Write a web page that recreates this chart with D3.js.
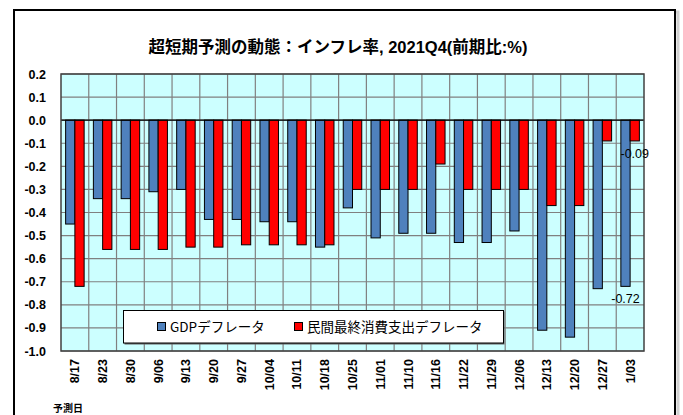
<!DOCTYPE html>
<html>
<head>
<meta charset="utf-8">
<script src="https://cdn.jsdelivr.net/npm/d3@7"></script>
<style>
  body { margin: 0; background: #fff; }
  svg { display: block; }
</style>
</head>
<body>
<div id="chart"></div>
<script>
// 予測日
var dates = ["8/17", "8/23", "8/30", "9/06", "9/13", "9/20", "9/27", "10/04", "10/11", "10/18",
  "10/25", "11/01", "11/10", "11/16", "11/22", "11/29", "12/06", "12/13", "12/20", "12/27", "1/03"];
// GDPデフレータ
var gdpDeflator = [-0.45, -0.34, -0.34, -0.31, -0.30, -0.43, -0.43, -0.44, -0.44, -0.55,
  -0.38, -0.51, -0.49, -0.49, -0.53, -0.53, -0.48, -0.91, -0.94, -0.73, -0.72];
// 民間最終消費支出デフレータ
var pceDeflator = [-0.72, -0.56, -0.56, -0.56, -0.55, -0.55, -0.54, -0.54, -0.54, -0.54,
  -0.30, -0.30, -0.30, -0.19, -0.30, -0.30, -0.30, -0.37, -0.37, -0.09, -0.09];
var seriesNames = ["GDPデフレータ", "民間最終消費支出デフレータ"];
var yTicks = [0.2, 0.1, 0.0, -0.1, -0.2, -0.3, -0.4, -0.5, -0.6, -0.7, -0.8, -0.9, -1.0];

var W = 683, H = 415;
var plotL = 61, plotR = 644, plotT = 74, plotB = 351;
var colors = ["#4f81bd", "#ff0000"];

var svg = d3.select("#chart").append("svg")
  .attr("width", W)
  .attr("height", H);

// outer frame
svg.append("rect")
  .attr("x", 16).attr("y", 12)
  .attr("width", 662).attr("height", 420)
  .attr("fill", "none")
  .attr("stroke", "#d0d0d0")
  .attr("stroke-width", 3);
svg.append("rect")
  .attr("x", 14).attr("y", 10)
  .attr("width", 661).attr("height", 420)
  .attr("fill", "#fff")
  .attr("stroke", "#000")
  .attr("stroke-width", 2);

svg.append("text")
  .attr("x", 338)
  .attr("y", 53)
  .attr("text-anchor", "middle")
  .style("font-family", "'Liberation Sans', 'Noto Sans CJK JP', sans-serif")
  .style("font-weight", "bold")
  .style("font-size", "16.5px")
  .text("超短期予測の動態：インフレ率, 2021Q4(前期比:%)");

var x = d3.scaleBand()
  .domain(dates)
  .range([plotL, plotR]);

var inner = d3.scaleBand()
  .domain([0, 1])
  .range([0, x.bandwidth()])
  .paddingInner(0)
  .paddingOuter(0.5);

var y = d3.scaleLinear()
  .domain([-1.0, 0.2])
  .range([plotB, plotT]);

// plot background
svg.append("rect")
  .attr("x", plotL).attr("y", plotT)
  .attr("width", plotR - plotL).attr("height", plotB - plotT)
  .attr("fill", "#ccffff");

// grid
svg.append("g")
  .selectAll("line")
  .data(yTicks)
  .enter()
  .append("line")
  .attr("x1", plotL).attr("x2", plotR)
  .attr("y1", function(d) { return y(d); })
  .attr("y2", function(d) { return y(d); })
  .attr("stroke", "#808080")
  .attr("stroke-width", 1.2);

svg.append("g")
  .selectAll("line")
  .data(dates.slice(1))
  .enter()
  .append("line")
  .attr("y1", plotT).attr("y2", plotB)
  .attr("x1", function(d) { return x(d); })
  .attr("x2", function(d) { return x(d); })
  .attr("stroke", "#808080")
  .attr("stroke-width", 1.2);

// bars
var series = [gdpDeflator, pceDeflator];
series.forEach(function(vals, s) {
  svg.append("g")
    .selectAll("rect")
    .data(vals)
    .enter()
    .append("rect")
    .attr("x", function(d, i) { return x(dates[i]) + inner(s); })
    .attr("width", inner.bandwidth())
    .attr("y", function(d) { return y(Math.max(0, d)); })
    .attr("height", function(d) { return Math.abs(y(d) - y(0)); })
    .attr("fill", colors[s])
    .attr("stroke", "#000")
    .attr("stroke-width", 1);
});

// zero line
svg.append("line")
  .attr("x1", plotL).attr("x2", plotR)
  .attr("y1", y(0)).attr("y2", y(0))
  .attr("stroke", "#000")
  .attr("stroke-width", 1.2);

// plot border
svg.append("rect")
  .attr("x", plotL).attr("y", plotT)
  .attr("width", plotR - plotL).attr("height", plotB - plotT)
  .attr("fill", "none")
  .attr("stroke", "#404040")
  .attr("stroke-width", 1.5);

// y axis labels
svg.append("g")
  .selectAll("text")
  .data(yTicks)
  .enter()
  .append("text")
  .attr("x", 46)
  .attr("y", function(d) { return y(d); })
  .attr("dy", "0.36em")
  .attr("text-anchor", "end")
  .style("font-family", "'Liberation Sans', Arial, sans-serif")
  .style("font-weight", "bold")
  .style("font-size", "12.5px")
  .text(function(d) { return (Math.round(d * 10) / 10).toFixed(1).replace("-0.0", "0.0"); });

// x axis labels
svg.append("g")
  .selectAll("text")
  .data(dates)
  .enter()
  .append("text")
  .attr("transform", function(d) {
    return "translate(" + (x(d) + x.bandwidth() / 2) + "," + 359 + ")rotate(-90)";
  })
  .attr("dy", "0.36em")
  .attr("text-anchor", "end")
  .style("font-family", "'Liberation Sans', Arial, sans-serif")
  .style("font-weight", "bold")
  .style("font-size", "12.5px")
  .text(function(d) { return d; });

svg.append("text")
  .attr("x", 53)
  .attr("y", 412)
  .style("font-family", "'Noto Sans CJK JP', sans-serif")
  .style("font-weight", "bold")
  .style("font-size", "10px")
  .text("予測日");

// data labels on last point
var last = dates.length - 1;
series.forEach(function(vals, s) {
  svg.append("text")
    .attr("x", x(dates[last]) + inner(s) + inner.bandwidth() / 2)
    .attr("y", y(vals[last]) + 17)
    .attr("text-anchor", "middle")
    .style("font-family", "'Liberation Sans', Arial, sans-serif")
    .style("font-size", "12.5px")
    .text(vals[last].toFixed(2));
});

// legend
var lg = svg.append("g");
lg.append("rect")
  .attr("x", 124.5).attr("y", 311.5)
  .attr("width", 380).attr("height", 33)
  .attr("fill", "#606060");
lg.append("rect")
  .attr("x", 123.5).attr("y", 310.5)
  .attr("width", 380).attr("height", 32.5)
  .attr("fill", "#fff")
  .attr("stroke", "#000")
  .attr("stroke-width", 1);
var legendX = [157, 294];
seriesNames.forEach(function(name, s) {
  lg.append("rect")
    .attr("x", legendX[s] + 0.5).attr("y", 322.5)
    .attr("width", 8).attr("height", 8)
    .attr("fill", colors[s])
    .attr("stroke", "#000")
    .attr("stroke-width", 1);
  lg.append("text")
    .attr("x", legendX[s] + 13)
    .attr("y", 331.5)
    .style("font-family", "'Noto Sans CJK JP', sans-serif")
    .style("font-size", "13.5px")
    .text(name);
});
</script>
</body>
</html>
